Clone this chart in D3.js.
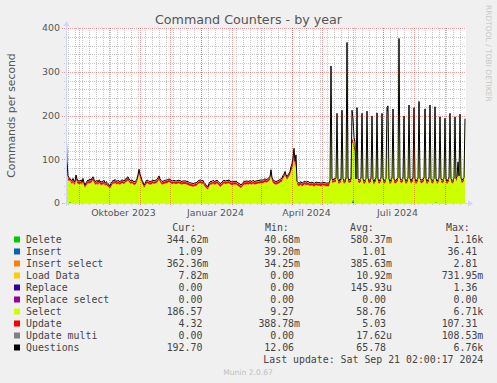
<!DOCTYPE html>
<html>
<head>
<meta charset="utf-8">
<script src="https://cdn.jsdelivr.net/npm/d3@7"></script>
<style>
  body { margin: 0; background: #f0f0f0; }
  svg text { font-family: "DejaVu Sans", sans-serif; }
  svg text.mono { font-family: "DejaVu Sans Mono", monospace; }
</style>
</head>
<body>
<script>
// one value per day, starting 18 Aug 2023 (400 days, munin "by year")
let questionsVals = [
  190, 95, 62, 58, 55, 53, 51, 56, 50, 49,   64, 55, 50, 51, 50, 53, 48, 56, 47, 41,
  46, 50, 53, 51, 55, 52, 57, 60, 54, 50,    49, 52, 48, 53, 51, 47, 50, 49, 52, 46,
  49, 47, 44, 42, 39, 45, 48, 52, 50, 54,    51, 49, 52, 50, 49, 51, 53, 52, 50, 54,
  55, 58, 60, 55, 52, 51, 53, 50, 49, 49,    51, 55, 65, 77, 66, 60, 52, 48, 41, 45,
  50, 52, 52, 49, 50, 49, 51, 53, 50, 52,    52, 54, 58, 62, 55, 52, 49, 50, 51, 51,
  53, 52, 54, 55, 54, 52, 50, 51, 52, 51,    50, 51, 52, 52, 51, 50, 49, 51, 50, 51,
  50, 49, 49, 47, 46, 46, 45, 45, 44, 47,    45, 48, 50, 52, 52, 53, 50, 52, 47, 44,
  42, 39, 37, 45, 48, 50, 49, 52, 50, 49,    51, 52, 50, 47, 45, 45, 48, 50, 52, 51,
  50, 52, 51, 53, 50, 49, 48, 49, 50, 49,    50, 48, 46, 45, 43, 41, 44, 47, 49, 50,
  49, 51, 49, 50, 51, 50, 49, 52, 50, 49,    51, 50, 52, 51, 53, 52, 53, 52, 54, 55,
  54, 54, 56, 58, 60, 76, 58, 53, 51, 50,    49, 50, 51, 52, 54, 55, 57, 63, 66, 72,
  65, 60, 64, 68, 72, 83, 90, 105, 125, 95,  110, 50, 47, 45, 47, 49, 45, 47, 49, 50,
  47, 49, 49, 48, 46, 47, 48, 46, 45, 46,    48, 47, 46, 47, 46, 45, 47, 48, 46, 47,
  45, 46, 45, 46, 52, 313, 55, 52, 56, 54,   57, 205, 54, 50, 55, 53, 212, 56, 51, 54,
  55, 367, 57, 52, 55, 54, 212, 194, 150, 138, 55, 218, 56, 52, 54, 56, 205, 55, 50, 53,
  56, 210, 57, 51, 54, 55, 199, 54, 49, 55,  56, 206, 55, 50, 54, 57, 205, 56, 51, 53,
  56, 219, 222, 55, 50, 54, 57, 215, 55, 51, 53, 55, 58, 376, 57, 52, 54, 56, 199, 55,
  50, 54, 57, 224, 56, 51, 55, 56, 218, 55,  50, 54, 57, 232, 56, 52, 53, 55, 57, 215,
  55, 50, 54, 57, 224, 55, 51, 53, 56, 220,  56, 50, 54, 57, 197, 55, 52, 54, 56, 194,
  55, 50, 54, 57, 205, 56, 51, 54, 56, 197,  56, 60, 94, 62, 203, 57, 52, 55, 58, 193
];

let selectVals = [
  175, 85, 54, 50, 47, 46, 44, 48, 43, 42,   55, 47, 43, 44, 43, 46, 41, 48, 40, 35,
  39, 43, 46, 44, 47, 45, 49, 52, 47, 43,    42, 45, 41, 46, 44, 40, 43, 42, 45, 39,
  42, 40, 37, 36, 33, 38, 41, 45, 43, 47,    44, 42, 45, 43, 42, 44, 46, 45, 43, 47,
  48, 50, 52, 48, 45, 44, 46, 43, 42, 42,    44, 48, 57, 68, 58, 52, 45, 41, 35, 38,
  43, 45, 45, 42, 43, 42, 44, 46, 43, 45,    45, 47, 50, 54, 48, 45, 42, 43, 44, 44,
  46, 45, 47, 48, 47, 45, 43, 44, 45, 44,    43, 44, 45, 45, 44, 43, 42, 44, 43, 44,
  43, 42, 42, 40, 39, 39, 38, 38, 37, 40,    38, 41, 43, 45, 45, 46, 43, 45, 40, 37,
  35, 32, 31, 38, 41, 43, 42, 45, 43, 42,    44, 45, 43, 40, 38, 38, 41, 43, 45, 44,
  43, 45, 44, 46, 43, 42, 41, 42, 43, 42,    43, 41, 39, 38, 36, 34, 37, 40, 42, 43,
  42, 44, 42, 43, 44, 43, 42, 45, 43, 42,    44, 43, 45, 44, 46, 45, 46, 45, 47, 48,
  47, 47, 49, 51, 53, 67, 51, 46, 44, 43,    42, 43, 44, 45, 47, 48, 50, 56, 59, 64,
  58, 53, 57, 61, 64, 72, 78, 88, 105, 80,   92, 43, 40, 38, 40, 42, 38, 40, 42, 43,
  40, 42, 42, 41, 39, 40, 41, 39, 38, 39,    41, 40, 39, 40, 39, 38, 40, 41, 39, 40,
  38, 39, 38, 39, 45, 300, 48, 45, 49, 47,   50, 195, 47, 43, 48, 46, 202, 49, 44, 47,
  48, 355, 50, 45, 48, 47, 140, 124, 125, 120, 48, 207, 49, 45, 47, 49, 195, 48, 43, 46,
  49, 199, 50, 44, 47, 48, 189, 47, 42, 48,  49, 196, 48, 43, 47, 50, 195, 49, 44, 46,
  49, 208, 211, 48, 43, 47, 50, 204, 48, 44, 46, 48, 51, 364, 50, 45, 47, 49, 189, 48,
  43, 47, 50, 213, 49, 44, 48, 49, 207, 48,  43, 47, 50, 221, 49, 45, 46, 48, 50, 204,
  48, 43, 47, 50, 213, 48, 44, 46, 49, 209,  49, 43, 47, 50, 187, 48, 45, 47, 49, 184,
  48, 43, 47, 50, 195, 49, 44, 47, 49, 187,  49, 53, 85, 55, 193, 50, 45, 48, 51, 187
];

let updateVals = [
  9, 6, 5, 5, 5, 4, 5, 5, 5, 5,  6, 5, 5, 5, 5, 5, 5, 6, 5, 4,  5, 5, 5, 5, 6, 5, 6, 6, 5, 5,  5, 5, 5, 5, 5, 5, 5, 5, 5, 5,
  5, 5, 5, 4, 4, 5, 5, 5, 5, 5,  5, 5, 5, 5, 5, 5, 5, 5, 5, 5,  5, 6, 6, 5, 5, 5, 5, 5, 5, 5,  5, 5, 6, 7, 6, 6, 5, 5, 4, 5,
  5, 5, 5, 5, 5, 5, 5, 5, 5, 5,  5, 5, 6, 6, 5, 5, 5, 5, 5, 5,  5, 5, 5, 5, 5, 5, 5, 5, 5, 5,  5, 5, 5, 5, 5, 5, 5, 5, 5, 5,
  5, 5, 5, 5, 5, 5, 5, 5, 5, 5,  5, 5, 5, 5, 5, 5, 5, 5, 5, 5,  5, 5, 4, 5, 5, 5, 5, 5, 5, 5,  5, 5, 5, 5, 5, 5, 5, 5, 5, 5,
  5, 5, 5, 5, 5, 5, 5, 5, 5, 5,  5, 5, 5, 5, 5, 5, 5, 5, 5, 5,  5, 5, 5, 5, 5, 5, 5, 5, 5, 5,  5, 5, 5, 5, 5, 5, 5, 5, 5, 5,
  5, 5, 5, 5, 5, 7, 5, 5, 5, 5,  5, 5, 5, 5, 5, 5, 5, 5, 5, 6,  5, 5, 5, 5, 6, 8, 9, 12, 14, 10, 13, 5, 5, 5, 5, 5, 5, 5, 5, 5,
  5, 5, 5, 5, 5, 5, 5, 5, 5, 5,  5, 5, 5, 5, 5, 5, 5, 5, 5, 5,  5, 5, 5, 5, 5, 9, 5, 5, 5, 5,  5, 8, 5, 5, 5, 5, 8, 5, 5, 5,
  5, 9, 5, 5, 5, 5, 8, 8, 7, 6,  5, 8, 5, 5, 5, 5, 8, 5, 5, 5,  5, 8, 5, 5, 5, 5, 8, 5, 5, 5,  5, 8, 5, 5, 5, 5, 8, 5, 5, 5,
  5, 8, 8, 5, 5, 5, 5, 8, 5, 5,  5, 5, 5, 9, 5, 5, 5, 5, 8, 5,  5, 5, 5, 8, 5, 5, 5, 5, 8, 5,  5, 5, 5, 8, 5, 5, 5, 5, 5, 8,
  5, 5, 5, 5, 8, 5, 5, 5, 5, 8,  5, 5, 5, 5, 8, 5, 5, 5, 5, 8,  5, 5, 5, 5, 8, 5, 5, 5, 5, 8,  5, 6, 6, 5, 8, 5, 5, 5, 5, 4
];

// the small series are zero on most days, only these blips are visible: [day, value]
let deleteBlips = [[4, 5], [370, 4]];
let insertBlips = [[228, 1.5], [234, 1.5], [265, 2.5], [287, 11]];

let legendNames = ['Delete', 'Insert', 'Insert select', 'Load Data', 'Replace', 'Replace select', 'Select', 'Update', 'Update multi', 'Questions'];
let legendColors = ['#00cc00', '#0066b3', '#ff8000', '#ffcc00', '#330099', '#990099', '#ccff00', '#ff0000', '#808080', '#000000'];
let curVals = ['344.62m', '1.09', '362.36m', '7.82m', '0.00', '0.00', '186.57', '4.32', '0.00', '192.70'];
let minVals = ['40.68m', '39.20m', '34.25m', '0.00', '0.00', '0.00', '9.27', '388.78m', '0.00', '12.06'];
let avgVals = ['580.37m', '1.01', '385.63m', '10.92m', '145.93u', '0.00', '58.76', '5.03', '17.62u', '65.78'];
let maxVals = ['1.16k', '36.41', '2.81', '731.95m', '1.36', '0.00', '6.71k', '107.31', '108.53m', '6.76k'];

let yTicks = [0, 100, 200, 300, 400];
let xLabels = ['Oktober 2023', 'Januar 2024', 'April 2024', 'Juli 2024'];
let xLabelDates = [Date.UTC(2023, 9, 15), Date.UTC(2024, 0, 15), Date.UTC(2024, 3, 15), Date.UTC(2024, 6, 15)];

let width = 497;
let height = 383;
let pLeft = 65.5, pRight = 465.5, pTop = 28, pBottom = 203;

let svg = d3.select('body')
            .append('svg')
            .attr('width', width)
            .attr('height', height)
            .style('display', 'block')

svg.append('rect').attr('width', width).attr('height', height).attr('fill', '#f0f0f0')

let start = Date.UTC(2023, 7, 18);
let end = Date.UTC(2024, 8, 21);
let xScale = d3.scaleUtc().domain([start, end]).range([pLeft, pRight]);
let yScale = d3.scaleLinear().domain([0, 400]).range([pBottom, pTop]);

// build the table for the stack
let zeros = questionsVals.map(() => 0);
let deleteVals = zeros.slice();
deleteBlips.forEach(b => deleteVals[b[0]] = b[1]);
let insertVals = zeros.slice();
insertBlips.forEach(b => insertVals[b[0]] = b[1]);

let keys = ['del', 'ins', 'insSel', 'load', 'repl', 'replSel', 'sel', 'upd', 'updMulti'];
let rows = questionsVals.map((q, i) => ({
    date: new Date(start + (i + 0.5) * 864e5),
    del: deleteVals[i], ins: insertVals[i], insSel: 0, load: 0,
    repl: 0, replSel: 0, sel: selectVals[i], upd: updateVals[i], updMulti: 0,
    q: q
}));
let stacked = d3.stack().keys(keys)(rows);

// canvas
svg.append('rect')
    .attr('x', 66).attr('y', pTop)
    .attr('width', pRight - 66 + 0.5).attr('height', pBottom - pTop)
    .attr('fill', '#ffffff')

svg.append('clipPath').attr('id', 'plot')
    .append('rect').attr('x', 66).attr('y', pTop - 1).attr('width', 401).attr('height', pBottom - pTop + 1)

let plot = svg.append('g').attr('clip-path', 'url(#plot)');
let minorGrid = svg.append('g').attr('fill', 'none').attr('stroke-dasharray', '1,1');

let area = d3.area()
    .x(d => xScale(d.data.date))
    .y0(d => yScale(d[0]))
    .y1(d => yScale(d[1]));

let layers = svg.append('g').attr('clip-path', 'url(#plot)');
layers.selectAll('path.layer')
    .data(stacked)
    .enter()
    .append('path')
    .attr('class', 'layer')
    .attr('fill', (d, i) => legendColors[i])
    .attr('d', area)

// minor grid under the areas, major grid over them (faint)
let minorY = d3.range(20, 400, 20).filter(v => v % 100 != 0);
minorGrid.selectAll('line.my').data(minorY).enter().append('line')
    .attr('x1', 64).attr('x2', 466)
    .attr('y1', d => Math.round(yScale(d)) + 0.5).attr('y2', d => Math.round(yScale(d)) + 0.5)
    .attr('stroke', '#c8c8c8')
minorGrid.selectAll('line.mx').data(d3.utcMonday.range(new Date(start), new Date(end))).enter().append('line')
    .attr('x1', d => xScale(d)).attr('x2', d => xScale(d))
    .attr('y1', pTop).attr('y2', pBottom + 2)
    .attr('stroke', '#c8c8c8')

let majorGrid = svg.append('g').attr('fill', 'none').attr('stroke-dasharray', '1,1');
majorGrid.selectAll('line.My').data(yTicks).enter().append('line')
    .attr('x1', 62).attr('x2', 466)
    .attr('y1', d => Math.round(yScale(d)) + 0.5).attr('y2', d => Math.round(yScale(d)) + 0.5)
    .attr('stroke', 'rgba(220,0,0,0.38)')
majorGrid.selectAll('line.Mx').data(d3.utcMonth.range(new Date(start), new Date(end))).enter().append('line')
    .attr('x1', d => xScale(d)).attr('x2', d => xScale(d))
    .attr('y1', pTop).attr('y2', pBottom + 3)
    .attr('stroke', 'rgba(220,0,0,0.38)')

// questions line
let line = d3.line()
    .x(d => xScale(d.date))
    .y(d => yScale(d.q));
layers.append('path')
    .datum(rows)
    .attr('fill', 'none')
    .attr('stroke', '#000')
    .attr('stroke-width', 1)
    .attr('d', line)

// axes with arrows
let axisColor = '#cfd6f8';
svg.append('line').attr('x1', 63).attr('x2', 469).attr('y1', pBottom + 0.5).attr('y2', pBottom + 0.5).attr('stroke', axisColor)
svg.append('line').attr('x1', 66.5).attr('x2', 66.5).attr('y1', pBottom + 3).attr('y2', 24).attr('stroke', axisColor)
svg.append('path').attr('d', 'M468,200.5L473,203.5L468,206.5Z').attr('fill', axisColor)
svg.append('path').attr('d', 'M63.5,26L66.5,21L69.5,26Z').attr('fill', axisColor)

svg.selectAll('text.ytick').data(yTicks).enter().append('text')
    .attr('x', 60).attr('y', d => yScale(d) + 3.4)
    .attr('text-anchor', 'end')
    .style('font-size', '9.4px').attr('fill', '#555')
    .text(d => d)

svg.selectAll('text.xtick').data(xLabels).enter().append('text')
    .attr('x', (d, i) => xScale(xLabelDates[i])).attr('y', 215.5)
    .attr('text-anchor', 'middle')
    .style('font-size', '9.4px').attr('fill', '#555')
    .text(d => d)

// titles
svg.append('text').attr('x', 248.5).attr('y', 24)
    .attr('text-anchor', 'middle').style('font-size', '12.7px').attr('fill', '#555')
    .text('Command Counters - by year')
svg.append('text').attr('transform', 'translate(15,115.5) rotate(-90)')
    .attr('text-anchor', 'middle').style('font-size', '10.8px').attr('fill', '#555')
    .text('Commands per second')
svg.append('text').attr('transform', 'translate(485.5,5) rotate(90)')
    .style('font-size', '7.5px').attr('fill', '#c8c8c8')
    .text('RRDTOOL / TOBI OETIKER')

// legend
let fs = 9.9, cw = fs * 0.602;
let heads = [['Cur:', 172.3], ['Min:', 265], ['Avg:', 350], ['Max:', 446]];
svg.selectAll('text.head').data(heads).enter().append('text')
    .attr('class', 'mono').attr('x', d => d[1]).attr('y', 231)
    .style('font-size', fs + 'px').attr('fill', '#444')
    .text(d => d[0])

let colEnds = [208.3, 300, 392, 483.3];
let cols = [curVals, minVals, avgVals, maxVals];
legendNames.forEach((name, i) => {
    let yb = 243 + i * 12;
    svg.append('rect').attr('x', 14).attr('y', yb - 6.5).attr('width', 6).attr('height', 6).attr('fill', legendColors[i])
    svg.append('text').attr('class', 'mono').attr('x', 26).attr('y', yb)
        .style('font-size', fs + 'px').attr('fill', '#444').text(name)
    cols.forEach((col, c) => {
        let v = col[i];
        let endX = /[0-9]$/.test(v) ? colEnds[c] - cw : colEnds[c];
        svg.append('text').attr('class', 'mono').attr('x', endX).attr('y', yb)
            .attr('text-anchor', 'end')
            .style('font-size', fs + 'px').attr('fill', '#444').text(v)
    })
})
svg.append('text').attr('class', 'mono').attr('x', 483.3).attr('y', 363)
    .attr('text-anchor', 'end').style('font-size', fs + 'px').attr('fill', '#444')
    .text('Last update: Sat Sep 21 02:00:17 2024')
svg.append('text').attr('x', 248).attr('y', 374.5)
    .attr('text-anchor', 'middle').style('font-size', '7.6px').attr('fill', '#c0c0c0')
    .text('Munin 2.0.67')
</script>
</body>
</html>
